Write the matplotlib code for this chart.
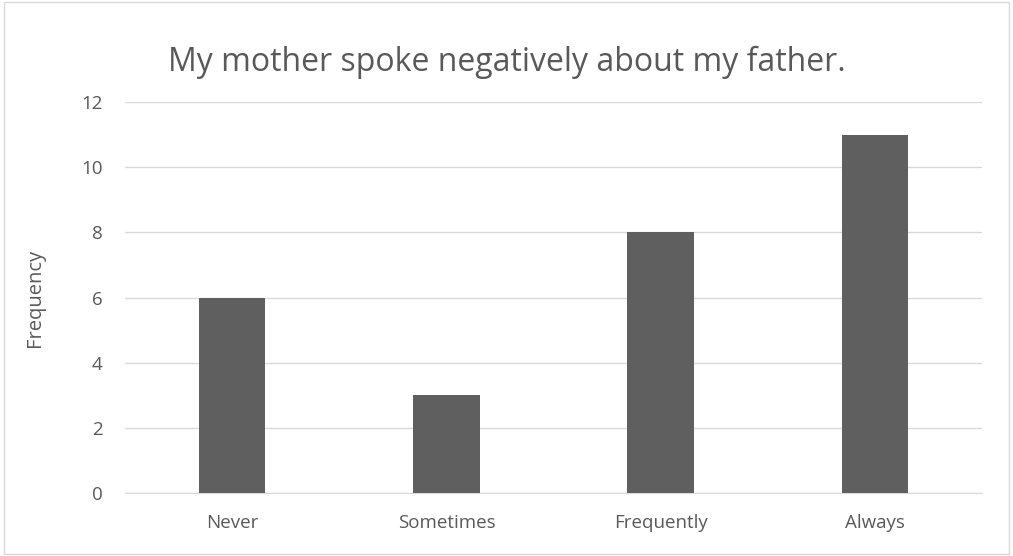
import matplotlib
matplotlib.use("Agg")
import matplotlib.pyplot as plt
from matplotlib.patches import Rectangle

categories = ["Never", "Sometimes", "Frequently", "Always"]
values = [6, 3, 8, 11]
yticks = [0, 2, 4, 6, 8, 10, 12]

plt.rcParams['font.family'] = ['Open Sans', 'DejaVu Sans']

fig = plt.figure(figsize=(10.13, 5.56), dpi=100)
fig.patches.append(Rectangle((0.004, 0.004), 0.992, 0.992, transform=fig.transFigure,
                             fill=False, edgecolor='#d9d9d9', linewidth=1))
ax = fig.add_axes([125/1013, 1-493/556, 857/1013, 391/556])
x = range(len(categories))
ax.bar(x, values, width=0.31, color='#5f5f5f', zorder=3)
ax.set_xlim(-0.5, len(categories)-0.5)
ax.set_ylim(0, 12)
ax.set_yticks(yticks)
ax.set_xticks(list(x))
ax.set_xticklabels(categories)
ax.grid(axis='y', color='#d9d9d9', linewidth=1, zorder=0)
for s in ['top', 'right', 'left']:
    ax.spines[s].set_visible(False)
ax.spines['bottom'].set_color('#d9d9d9')
ax.tick_params(axis='both', length=0, labelsize=13.5, colors='#595959')
ax.tick_params(axis='x', pad=15)
ax.tick_params(axis='y', pad=16)
ax.set_ylabel("Frequency", fontsize=14.5, color='#595959', labelpad=26)
fig.text(0.5, 1-62/556, "My mother spoke negatively about my father.", ha='center', va='center',
         fontsize=23, color='#595959')
fig.savefig("out.png", dpi=100)
